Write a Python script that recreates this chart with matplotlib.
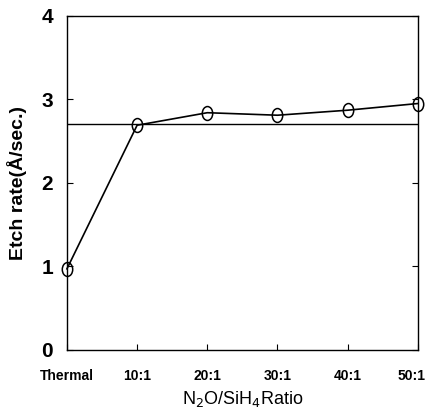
import numpy as np
import matplotlib.pyplot as plt
import matplotlib.transforms as mtransforms
from matplotlib.path import Path

plt.rcParams['font.family'] = ['Liberation Sans', 'DejaVu Sans']

# data
ratios = ['Thermal', '10:1', '20:1', '30:1', '40:1', '50:1']
etch_rate = [0.97, 2.69, 2.84, 2.81, 2.87, 2.95]
thermal_ref = 2.70

x = np.arange(len(ratios))

# open circles in the scan look a little taller than wide
circ = Path.unit_circle()
oval = Path(circ.vertices * [0.75, 1.0], circ.codes)

fig = plt.figure(figsize=(4.29, 4.17), dpi=100)
ax = fig.add_axes([0.156, 0.161, 0.818, 0.801])

ax.axhline(thermal_ref, color='black', lw=1.0)
ax.plot(x, etch_rate, color='black', lw=1.2, marker=oval, markersize=10,
        markerfacecolor='none', markeredgecolor='black', markeredgewidth=1.1,
        clip_on=False)

ax.set_xlim(0, 5)
ax.set_ylim(0, 4)
ax.set_xticks(x)
ax.set_xticklabels(ratios, fontsize=10, fontweight='bold',
                   family=['Liberation Sans Narrow', 'Liberation Sans'])
ax.set_yticks([0, 1, 2, 3, 4])
ax.set_yticklabels(['0', '1', '2', '3', '4'], fontsize=15, fontweight='bold')
ax.tick_params(direction='in', length=4, right=True, width=0.8)
ax.tick_params(axis='x', pad=14)
ax.tick_params(axis='y', pad=10)

# last label sits against the right edge, keep it inside the figure
last = ax.get_xticklabels()[-1]
last.set_ha('right')
last.set_transform(last.get_transform() +
                   mtransforms.ScaledTranslation(8 / 100, 0, fig.dpi_scale_trans))

for s in ax.spines.values():
    s.set_linewidth(1.0)

ax.set_ylabel('Etch rate(Å/sec.)', fontsize=14, fontweight='bold', labelpad=10)
ax.set_xlabel('N$_2$O/SiH$_4$Ratio', fontsize=13, labelpad=4)

fig.savefig('out.png', dpi=100)
